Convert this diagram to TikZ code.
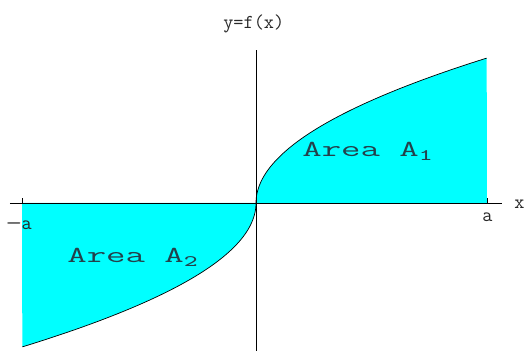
\documentclass[tikz,border=0pt]{standalone}
\usepackage{fontspec}
\usepackage{tikz}
\usepackage{xcolor}
\definecolor{ccyan}{RGB}{0,255,255}
\definecolor{ctexte}{RGB}{35,65,75}
\definecolor{cgris}{RGB}{40,40,40}

\begin{document}
\begin{tikzpicture}[x=2cm, y=2cm,
  lbl/.style={font=\ttfamily\fontsize{11.2}{13}\selectfont, text=cgris, inner sep=0pt, anchor=base west},
  aire/.style={font=\ttfamily\fontsize{13}{15}\selectfont, text=ctexte, inner sep=0pt, anchor=base west}]
\useasboundingbox (-2.56,-1.48) rectangle (2.69,2.03);
\coordinate (O) at (0,0);
\coordinate (Ad) at (2.31,0); \coordinate (Ag) at (-2.34,0);
\fill[ccyan] (O) -- plot[domain=0:1, samples=60] ({2.31*\x*\x},{1.45*\x}) -- (Ad) -- cycle;
\fill[ccyan] (O) -- plot[domain=0:1, samples=60] ({-2.34*\x*\x},{-1.44*\x}) -- (Ag) -- cycle;
\draw[thin] plot[domain=0:1, samples=60] ({2.31*\x*\x},{1.45*\x});
\draw[thin] plot[domain=0:1, samples=60] ({-2.34*\x*\x},{-1.44*\x});
\coordinate (xg) at (-2.46,0); \coordinate (xd) at (2.46,0);
\coordinate (yh) at (0,1.53); \coordinate (yb) at (0,-1.48);
\draw[thin] (xg) -- (xd);
\draw[thin] (yb) -- (yh);
\foreach \t in {Ag,Ad}
  {\draw[thin] (\t) -- ++(0,0.05);}
\node[lbl] (titre) at (-0.33,1.74) {y=f(x)};
\node[lbl, anchor=base] (xlab) at (2.635,-0.06) {x};
\node[lbl] (alab) at (2.26,-0.19) {a};
\node[lbl] (malab) at (-2.50,-0.27) {\scalebox{1.5}[1]{−}a};
\node[aire] (aireA1) at (0.46,0.46) {\scalebox{1.65}[1]{Area A\textsubscript{1}}};
\node[aire] (aireA2) at (-1.89,-0.60) {\scalebox{1.65}[1]{Area A\textsubscript{2}}};
\end{tikzpicture}
\end{document}
